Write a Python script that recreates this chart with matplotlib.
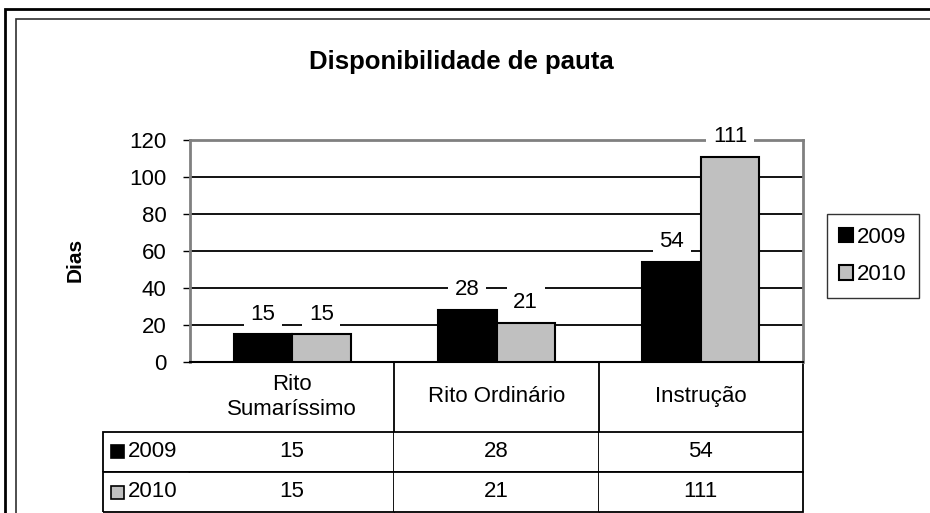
import numpy as np
import matplotlib.pyplot as plt
from matplotlib.patches import Rectangle

plt.rcParams['font.family'] = ['Liberation Sans', 'DejaVu Sans']

categories = ['Rito\nSumaríssimo', 'Rito Ordinário', 'Instrução']
series_labels = ['2009', '2010']
values_2009 = [15, 28, 54]
values_2010 = [15, 21, 111]
series_colors = ['black', '#c0c0c0']
yticks = [0, 20, 40, 60, 80, 100, 120]

W, H = 930, 513
fig = plt.figure(figsize=(W / 100, H / 100), dpi=100)

# double frame around the chart (cut off at right and bottom)
fig.add_artist(Rectangle((5 / W, -0.2), 1.3, 0.2 + (1 - 9 / H), transform=fig.transFigure,
                         fill=False, edgecolor='black', linewidth=2))
fig.add_artist(Rectangle((16 / W, -0.2), 1.3, 0.2 + (1 - 19 / H), transform=fig.transFigure,
                         fill=False, edgecolor='#303030', linewidth=1.2))

ax = fig.add_axes([190 / W, 1 - 362 / H, 613 / W, 222 / H])

x = np.arange(len(categories))
w = 1 / 3.5
b1 = ax.bar(x - w / 2, values_2009, w, color=series_colors[0], edgecolor='black',
            linewidth=1.5, label=series_labels[0], zorder=3)
b2 = ax.bar(x + w / 2, values_2010, w, color=series_colors[1], edgecolor='black',
            linewidth=1.5, label=series_labels[1], zorder=3)

box = dict(boxstyle='square,pad=0.3', facecolor='white', edgecolor='none')
for bars in (b1, b2):
    ax.bar_label(bars, padding=7, fontsize=16, bbox=box, zorder=5, clip_on=False)

ax.set_xlim(-0.5, 2.5)
ax.set_ylim(0, 120)
ax.set_yticks(yticks)
ax.tick_params(axis='y', labelsize=16, length=5, width=1, pad=12)
ax.set_xticks([])
ax.yaxis.grid(True, color='black', linewidth=1.3)
ax.set_axisbelow(True)
for s in ('left', 'top', 'right'):
    ax.spines[s].set_color('#808080')
    ax.spines[s].set_linewidth(2)
ax.spines['bottom'].set_color('black')
ax.spines['bottom'].set_linewidth(1.5)

ax.set_ylabel('Dias', fontsize=15, fontweight='bold')
ax.yaxis.set_label_coords(-0.172, 0.46)

fig.text(461 / W, 1 - 62 / H, 'Disponibilidade de pauta', ha='center', va='center',
         fontsize=18.5, fontweight='bold')

# data table under the axis: first column holds the series names
label_w = 87 / 613
cell_text = [[series_labels[0]] + [str(v) for v in values_2009],
             [series_labels[1]] + [str(v) for v in values_2010]]
tbl = ax.table(cellText=cell_text, colLabels=[''] + categories,
               colWidths=[label_w] + [1 / 3] * 3, cellLoc='center',
               bbox=[-label_w, -150 / 222, 1 + label_w, 150 / 222])
tbl.auto_set_font_size(False)
tbl.set_fontsize(16)
for (r, c), cell in tbl.get_celld().items():
    cell.set_linewidth(1.3)
    if r == 0:
        cell.set_height(70 / 222)
        cell.visible_edges = '' if c == 0 else 'R'
    else:
        cell.set_height(40 / 222)
        cell.visible_edges = 'LTB' if c == 0 else 'TBR'
    if c == 0 and r > 0:
        cell.PAD = 0.29
        cell.get_text().set_horizontalalignment('left')

for i, col in enumerate(series_colors):
    yc = (362 - (452 + 40 * i)) / 222
    ax.add_patch(Rectangle((-79 / 613, yc - 6.5 / 222), 13 / 613, 13 / 222,
                           transform=ax.transAxes, facecolor=col, edgecolor='black',
                           linewidth=1.2, clip_on=False, zorder=6))

leg = ax.legend(loc='center left', bbox_to_anchor=(827 / W, 1 - 256 / H),
                bbox_transform=fig.transFigure, borderaxespad=0, fontsize=16,
                handlelength=0.6, handleheight=0.6, handletextpad=0.2,
                labelspacing=0.75, borderpad=0.55, fancybox=False)
leg.get_frame().set_edgecolor('black')
leg.get_frame().set_linewidth(1)

fig.savefig('out.png', dpi=100)
